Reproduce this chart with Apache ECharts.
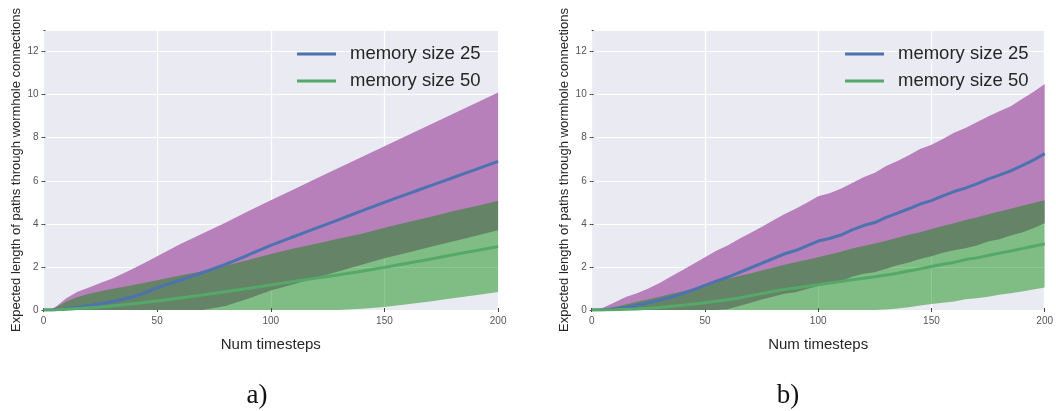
<!DOCTYPE html>
<html>
<head>
<meta charset="utf-8">
<script src="https://cdn.jsdelivr.net/npm/echarts@6/dist/echarts.min.js"></script>
<style>
  html, body { margin: 0; padding: 0; background: #fff; }
  #chart { width: 1056px; height: 411px; }
</style>
</head>
<body>
<div id="chart"></div>
<script>
// Timesteps and per-step mean / standard deviation of the path length.
// Panel a)
const stepsA = [0, 3, 6, 10, 15, 20, 25, 30, 35, 40, 45, 50, 60, 70, 80, 90, 100, 110, 120, 130, 140, 150, 160, 170, 180, 190, 200];
const meanA25 = [0, 0, 0.02, 0.06, 0.13, 0.2, 0.28, 0.38, 0.5, 0.64, 0.82, 1.03, 1.38, 1.74, 2.12, 2.55, 3.0, 3.4, 3.8, 4.2, 4.6, 5.0, 5.38, 5.76, 6.14, 6.52, 6.9];
const stdA25 = [0, 0, 0.18, 0.49, 0.72, 0.85, 0.97, 1.07, 1.2, 1.31, 1.4, 1.47, 1.67, 1.81, 1.93, 2.03, 2.1, 2.2, 2.3, 2.4, 2.5, 2.6, 2.72, 2.84, 2.96, 3.08, 3.2];
const meanA50 = [0, 0, 0.01, 0.03, 0.07, 0.1, 0.14, 0.19, 0.24, 0.3, 0.36, 0.42, 0.56, 0.7, 0.85, 1.0, 1.16, 1.32, 1.48, 1.64, 1.8, 1.98, 2.17, 2.36, 2.56, 2.75, 2.95];
const stdA50 = [0, 0, 0.14, 0.37, 0.53, 0.65, 0.73, 0.78, 0.83, 0.87, 0.92, 0.96, 1.04, 1.1, 1.2, 1.32, 1.44, 1.53, 1.6, 1.68, 1.74, 1.84, 1.9, 1.96, 2.02, 2.07, 2.12];

// Panel b)
const stepsB = [0, 5, 10, 15, 20, 25, 30, 35, 40, 45, 50, 55, 60, 65, 70, 75, 80, 85, 90, 95, 100, 105, 110, 115, 120, 125, 130, 135, 140, 145, 150, 155, 160, 165, 170, 175, 180, 185, 190, 195, 200];
const meanB25 = [0, 0.01, 0.05, 0.12, 0.22, 0.33, 0.46, 0.6, 0.76, 0.94, 1.14, 1.34, 1.52, 1.74, 1.95, 2.17, 2.38, 2.6, 2.76, 2.98, 3.2, 3.32, 3.48, 3.72, 3.92, 4.06, 4.3, 4.5, 4.7, 4.92, 5.08, 5.3, 5.5, 5.66, 5.86, 6.08, 6.26, 6.46, 6.7, 6.96, 7.26];
const stdB25 = [0, 0.09, 0.3, 0.48, 0.56, 0.67, 0.79, 0.95, 1.09, 1.21, 1.31, 1.41, 1.48, 1.56, 1.63, 1.68, 1.77, 1.85, 1.94, 2.0, 2.08, 2.1, 2.15, 2.18, 2.24, 2.31, 2.38, 2.42, 2.49, 2.55, 2.59, 2.64, 2.73, 2.79, 2.86, 2.9, 2.97, 3.0, 3.1, 3.16, 3.23];
const meanB50 = [0, 0, 0.01, 0.03, 0.05, 0.08, 0.12, 0.17, 0.22, 0.28, 0.34, 0.41, 0.48, 0.56, 0.66, 0.76, 0.86, 0.95, 1.02, 1.1, 1.17, 1.25, 1.32, 1.4, 1.47, 1.54, 1.62, 1.71, 1.81, 1.91, 2.02, 2.12, 2.21, 2.34, 2.42, 2.53, 2.64, 2.74, 2.85, 2.96, 3.07];
const stdB50 = [0, 0.05, 0.13, 0.23, 0.33, 0.42, 0.5, 0.57, 0.64, 0.72, 0.8, 0.89, 0.97, 1.02, 1.04, 1.07, 1.1, 1.15, 1.2, 1.23, 1.28, 1.33, 1.38, 1.45, 1.5, 1.55, 1.6, 1.64, 1.68, 1.7, 1.74, 1.78, 1.82, 1.84, 1.88, 1.91, 1.93, 1.96, 1.99, 2.01, 2.03];

const seriesNames = ['memory size 25', 'memory size 50'];
const xTicks = [0, 50, 100, 150, 200];
const yTicks = [0, 2, 4, 6, 8, 10, 12];
const captions = ['a)', 'b)'];
const xName = 'Num timesteps';
const yName = 'Expected length of paths through wormhole connections';

const BLUE = '#4C72B0';
const GREEN = '#55A868';
const PURPLE = '#B880BA';
const GREEN_FILL = 'rgba(0,136,0,0.45)';
const FONT = '"Liberation Sans", Arial, sans-serif';

const panels = [
  { steps: stepsA, m25: meanA25, s25: stdA25, m50: meanA50, s50: stdA50, left: 43.5, smooth: 0.2, legendLeft: 297, caption: captions[0], capX: 257 },
  { steps: stepsB, m25: meanB25, s25: stdB25, m50: meanB50, s50: stdB50, left: 591.7, smooth: false, legendLeft: 845, caption: captions[1], capX: 788 }
];
const PLOT_W = 454.6, PLOT_TOP = 30, PLOT_H = 280;

const pairs = (xs, ys) => xs.map((x, i) => [x, ys[i]]);

// Shaded mean ± std band, drawn as one polygon through the axis scales.
function bandSeries(steps, mean, std, color, xi, yi) {
  const rows = steps.map((x, i) => [x, +(mean[i] - std[i]).toFixed(3), +(mean[i] + std[i]).toFixed(3)]);
  return {
    type: 'custom', xAxisIndex: xi, yAxisIndex: yi, silent: true, z: 2,
    data: rows,
    encode: { x: 0, y: [1, 2] },
    renderItem: function (params, api) {
      if (params.dataIndex !== 0) return null;
      const top = rows.map(r => api.coord([r[0], r[2]]));
      const bottom = rows.map(r => api.coord([r[0], r[1]])).reverse();
      const pts = echarts.graphic.clipPointsByRect(top.concat(bottom), params.coordSys);
      return { type: 'polygon', shape: { points: pts }, style: { fill: color, stroke: null } };
    }
  };
}

const grid = [], xAxis = [], yAxis = [], series = [], legend = [], graphic = [];

panels.forEach((p, k) => {
  grid.push({ left: p.left, top: PLOT_TOP, width: PLOT_W, height: PLOT_H, show: true, backgroundColor: '#EAEAF2', borderWidth: 0 });
  const xi = xAxis.length, yi = yAxis.length;
  xAxis.push({
    type: 'value', gridIndex: k, min: xTicks[0], max: xTicks[xTicks.length - 1], interval: xTicks[1] - xTicks[0],
    name: xName, nameLocation: 'middle', nameGap: 27,
    nameTextStyle: { fontFamily: FONT, fontSize: 15, color: '#262626' },
    axisLine: { show: false },
    axisTick: { show: true, length: 2, lineStyle: { color: '#444' } },
    axisLabel: { fontFamily: FONT, fontSize: 10, color: '#555', margin: 6 },
    splitLine: { show: true, lineStyle: { color: '#fff', width: 1.2 } }
  });
  yAxis.push({
    type: 'value', gridIndex: k, min: 0, max: 13, interval: yTicks[1] - yTicks[0],
    name: yName, nameLocation: 'middle', nameGap: 21,
    nameTextStyle: { fontFamily: FONT, fontSize: 13, color: '#262626' },
    axisLine: { show: false },
    axisTick: { show: true, length: 2, lineStyle: { color: '#444' } },
    axisLabel: { fontFamily: FONT, fontSize: 10, color: '#555', margin: 5, showMaxLabel: false },
    splitLine: { show: true, lineStyle: { color: '#fff', width: 1.2 } }
  });
  // small tick marks on the opposite edges
  xAxis.push({
    type: 'value', gridIndex: k, position: 'top', min: 0, max: 200, interval: 50,
    axisLine: { show: false }, axisLabel: { show: false }, splitLine: { show: false },
    axisTick: { show: true, length: 2, lineStyle: { color: '#444' } }
  });
  yAxis.push({
    type: 'value', gridIndex: k, position: 'right', min: 0, max: 13, interval: 2,
    axisLine: { show: false }, axisLabel: { show: false }, splitLine: { show: false },
    axisTick: { show: true, length: 2, lineStyle: { color: '#444' } }
  });

  series.push(bandSeries(p.steps, p.m25, p.s25, PURPLE, xi, yi));
  series.push(bandSeries(p.steps, p.m50, p.s50, GREEN_FILL, xi, yi));

  [[p.m25, BLUE, seriesNames[0]], [p.m50, GREEN, seriesNames[1]]].forEach(([vals, color, name]) => {
    series.push({
      name: name, type: 'line', xAxisIndex: xi, yAxisIndex: yi, data: pairs(p.steps, vals),
      symbol: 'none', smooth: p.smooth, color: color,
      lineStyle: { color: color, width: 3 }, z: 5
    });
  });

  legend.push({
    data: seriesNames, orient: 'vertical', left: p.legendLeft, top: 43.5, padding: 0,
    icon: 'path://M0,0 H40 V3 H0 Z',
    itemWidth: 39, itemHeight: 3, itemGap: 6,
    textStyle: { fontFamily: FONT, fontSize: 18.5, lineHeight: 21, color: '#262626', padding: [0, 0, 0, 9] },
    selectedMode: false
  });

  graphic.push({
    type: 'text', x: p.capX, y: 396,
    style: { text: p.caption, font: '27px "Liberation Serif", "DejaVu Serif", serif', fill: '#111', align: 'center', verticalAlign: 'middle' }
  });
});

const chart = echarts.init(document.getElementById('chart'), null, { renderer: 'canvas' });
chart.setOption({
  animation: false,
  backgroundColor: '#fff',
  grid, xAxis, yAxis, series, legend, graphic
});
</script>
</body>
</html>
